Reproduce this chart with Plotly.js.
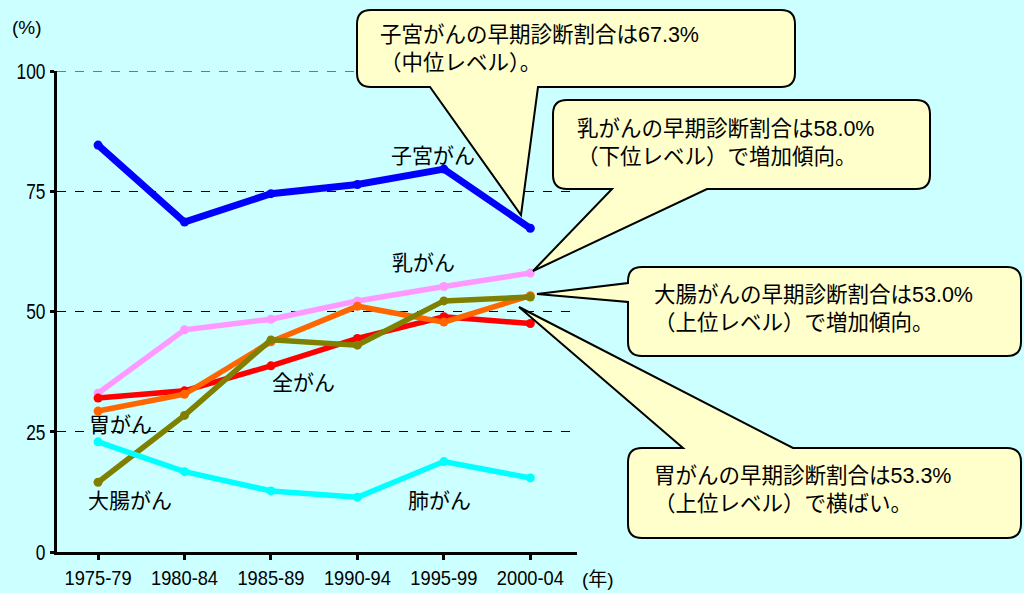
<!DOCTYPE html>
<html>
<head>
<meta charset="utf-8">
<script src="https://cdn.plot.ly/plotly-3.0.1.min.js"></script>
<style>html,body{margin:0;padding:0;background:#CCFFFF;}</style>
</head>
<body>
<div id="chart" style="width:1024px;height:593px;"></div>
<script>
// ---- data ----
const periods = ["1975-79", "1980-84", "1985-89", "1990-94", "1995-99", "2000-04"];
const uterus   = [84.6, 68.6, 74.5, 76.4, 79.6, 67.3];   // 子宮がん
const breast   = [33.0, 46.2, 48.4, 52.2, 55.2, 58.0];   // 乳がん
const allCancer= [32.0, 33.5, 38.7, 44.4, 48.9, 47.5];   // 全がん
const stomach  = [29.3, 32.8, 43.7, 51.1, 47.8, 53.3];   // 胃がん
const colon    = [14.5, 28.4, 44.1, 43.0, 52.2, 53.0];   // 大腸がん
const lung     = [22.9, 16.7, 12.7, 11.4, 18.8, 15.4];   // 肺がん
const yTicks = [0, 25, 50, 75, 100];

// ---- geometry helpers (pixel -> paper) ----
const L = 57, R = 577, T = 71, B = 552;
const px = x => (x - L) / (R - L);
const py = y => (B - y) / (B - T);
const P = (x, y) => px(x).toFixed(5) + "," + py(y).toFixed(5);

function callout(x0, y0, x1, y1, r, tail) {
  let d = "M" + P(x0 + r, y0);
  if (tail.side === "top") d += " L" + P(tail.a, y0) + " L" + P(tail.tip[0], tail.tip[1]) + " L" + P(tail.b, y0);
  d += " L" + P(x1 - r, y0) + " Q" + P(x1, y0) + " " + P(x1, y0 + r);
  d += " L" + P(x1, y1 - r) + " Q" + P(x1, y1) + " " + P(x1 - r, y1);
  if (tail.side === "bottom") d += " L" + P(tail.b, y1) + " L" + P(tail.tip[0], tail.tip[1]) + " L" + P(tail.a, y1);
  d += " L" + P(x0 + r, y1) + " Q" + P(x0, y1) + " " + P(x0, y1 - r);
  if (tail.side === "left") d += " L" + P(x0, tail.b) + " L" + P(tail.tip[0], tail.tip[1]) + " L" + P(x0, tail.a);
  d += " L" + P(x0, y0 + r) + " Q" + P(x0, y0) + " " + P(x0 + r, y0) + " Z";
  return {type: "path", xref: "paper", yref: "paper", path: d, layer: "above",
          fillcolor: "#FFFFCC", line: {color: "#000000", width: 2}};
}

const jpFont = "Liberation Sans, Arial, Noto Sans CJK JP, sans-serif";

function series(y, color, w) {
  return {x: periods, y: y, type: "scatter", mode: "lines+markers",
          line: {color: color, width: w}, marker: {color: color, size: 9},
          hoverinfo: "skip", showlegend: false, cliponaxis: false};
}

const traces = [
  series(breast, "#FF99FF", 5.5),
  series(allCancer, "#FF0000", 5.5),
  series(stomach, "#FF6600", 5.5),
  series(colon, "#808000", 5.5),
  series(uterus, "#0000FF", 7),
  series(lung, "#00FFFF", 5.5)
];

function lab(text, x, y, size) {
  return {xref: "paper", yref: "paper", x: px(x), y: py(y), text: text, showarrow: false,
          xanchor: "center", yanchor: "middle", font: {family: jpFont, size: size || 21, color: "#000"}};
}
function box(text, x, y) {
  return {xref: "paper", yref: "paper", x: px(x), y: py(y), text: text, showarrow: false,
          xanchor: "left", yanchor: "middle", align: "left",
          font: {family: jpFont, size: 21.5, color: "#000"}};
}

const layout = {
  width: 1024, height: 593, autosize: false,
  margin: {l: L, r: 1024 - R, t: T, b: 593 - B, pad: 0},
  paper_bgcolor: "#CCFFFF", plot_bgcolor: "#CCFFFF",
  xaxis: {type: "category", range: [-0.475, 5.54], showgrid: false, zeroline: false,
          showline: true, linecolor: "#000", linewidth: 3,
          ticks: "outside", ticklen: 5, tickwidth: 3, tickcolor: "#000",
          tickfont: {family: "Liberation Sans, Arial, sans-serif", size: 21, color: "#000"}},
  yaxis: {range: [0, 100], tickvals: yTicks, showgrid: true, gridcolor: "#000", gridwidth: 1, griddash: "dash",
          zeroline: false, showline: true, linecolor: "#000", linewidth: 3,
          ticks: "outside", ticklen: 4, tickwidth: 3, tickcolor: "#000",
          tickfont: {family: "Liberation Sans, Arial, sans-serif", size: 22.5, color: "#000"}},
  shapes: [
    {type: "line", xref: "paper", yref: "y", x0: 0, x1: 1, y0: 100, y1: 100, layer: "below",
     line: {color: "#000", width: 1, dash: "dash"}},
    callout(357, 10, 795, 87, 14, {side: "bottom", a: 430, b: 538, tip: [521, 215]}),
    callout(553, 100, 930, 189, 14, {side: "bottom", a: 612, b: 707, tip: [533, 271]}),
    callout(628, 267, 1021, 356, 14, {side: "left", a: 283, b: 302, tip: [537, 294]}),
    callout(628, 448, 1021, 538, 14, {side: "top", a: 683, b: 793, tip: [519, 307]})
  ],
  annotations: [
    lab("(%)", 27, 27, 19),
    lab("(年)", 598, 579, 19),
    lab("子宮がん", 433, 155),
    lab("乳がん", 423, 262),
    lab("全がん", 303, 382),
    lab("胃がん", 120, 425),
    lab("大腸がん", 130, 500),
    lab("肺がん", 439, 500),
    box("子宮がんの早期診断割合は67.3%<br>（中位レベル）。", 378, 49),
    box("乳がんの早期診断割合は58.0%<br>（下位レベル）で増加傾向。", 575, 143),
    box("大腸がんの早期診断割合は53.0%<br>（上位レベル）で増加傾向。", 652, 309),
    box("胃がんの早期診断割合は53.3%<br>（上位レベル）で横ばい。", 652, 490)
  ]
};

Plotly.newPlot("chart", traces, layout, {staticPlot: true, displayModeBar: false}).then(gd => {
  const squeeze = (sel, s) => gd.querySelectorAll(sel).forEach(t => {
    const x = parseFloat(t.getAttribute("x")) || 0, y = parseFloat(t.getAttribute("y")) || 0;
    const tr = t.getAttribute("transform") || "";
    t.setAttribute("transform", tr + " translate(" + x + "," + y + ") scale(" + s + ",1) translate(" + (-x) + "," + (-y) + ")");
  });
  squeeze(".xtick text", 0.87);
  squeeze(".ytick text", 0.77);
});
</script>
</body>
</html>
